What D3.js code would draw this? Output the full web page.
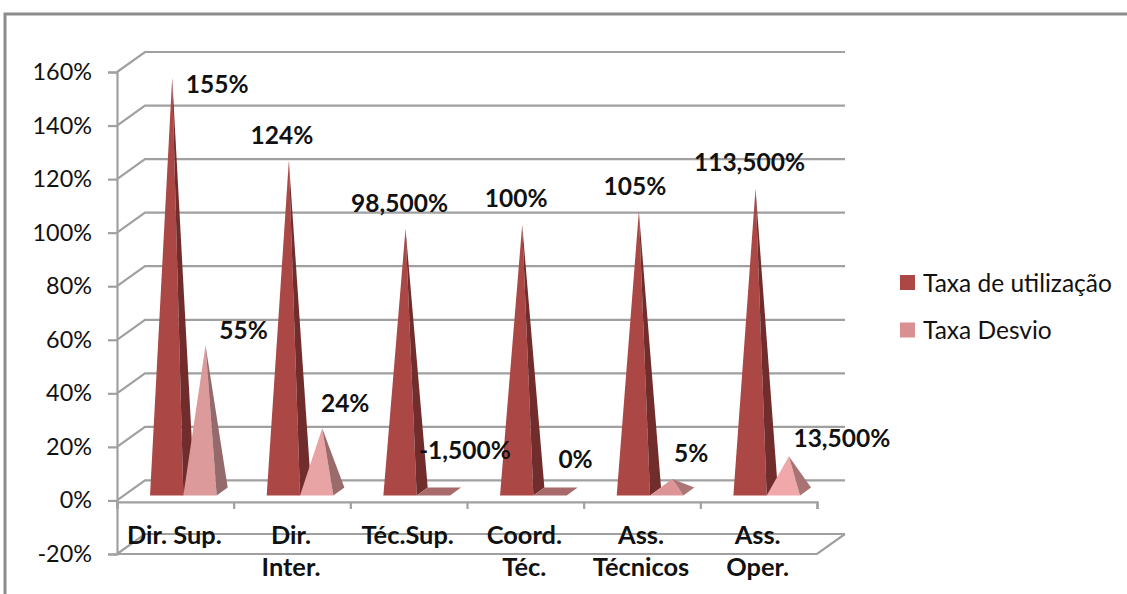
<!DOCTYPE html>
<html>
<head>
<meta charset="utf-8">
<script src="https://cdn.jsdelivr.net/npm/d3@7/dist/d3.min.js"></script>
<style>
html,body{margin:0;padding:0;background:#fff}
svg{display:block}
text{font-family:Lato,"Open Sans",sans-serif;fill:#111}
</style>
</head>
<body>
<div id="chart"></div>
<script>
// Categories, each one or two lines long
const categories = ["Dir. Sup.", "Dir. Inter.", "Téc.Sup.", "Coord. Téc.", "Ass. Técnicos", "Ass. Oper."];
const categoryLines = [["Dir. Sup."], ["Dir.", "Inter."], ["Téc.Sup."], ["Coord.", "Téc."], ["Ass.", "Técnicos"], ["Ass.", "Oper."]];

// Series values in percent
const taxaUtilizacao = [155, 124, 98.5, 100, 105, 113.5];
const taxaDesvio = [55, 24, -1.5, 0, 5, 13.5];

// Value labels as printed on the chart
const utilizacaoLabels = ["155%", "124%", "98,500%", "100%", "105%", "113,500%"];
const desvioLabels = ["55%", "24%", "-1,500%", "0%", "5%", "13,500%"];

const yTicks = [-20, 0, 20, 40, 60, 80, 100, 120, 140, 160];
const seriesNames = ["Taxa de utilização", "Taxa Desvio"];

// Label nudges relative to each pyramid tip
const utilizacaoNudge = [[45, 7], [-7, -25], [-6, -25], [-6, -26], [-4, -25], [-6, -26]];
const desvioNudge = [[38, -15], [23, -25], [26, -46], [20, -33], [19, -26], [53, -18]];

// Face colours: [front, side] per bar
const darkFaces = ["#ab4745", "#712d2c"];
const paleFaces = [["#dc9a9a", "#946a6a"], ["#e8a3a5", "#9b6b6c"], ["#a86a6a", "#a86a6a"],
                   ["#a86a6a", "#a86a6a"], ["#dc9496", "#ad7575"], ["#f0a8aa", "#a87373"]];
const gridColor = "#a0a0a0";

const width = 1127, height = 594;
const svg = d3.select("#chart").append("svg").attr("width", width).attr("height", height);

// Outer frame, cut off by the right and bottom edges
svg.append("path").attr("d", "M5,594V14H1127").attr("fill", "none")
  .attr("stroke", "#8c8c8c").attr("stroke-width", 3);

const left = 117, right = 817;
const depthX = 28, depthY = 20;          // oblique offset of the back wall
const y = d3.scaleLinear().domain([-20, 160]).range([554, 72]);
const x = d3.scaleBand().domain(categories).range([left, right]);
const barWidth = x.bandwidth() * 2 / 7;
const barInset = x.bandwidth() * 2 / 7 - 0.3;
const baseDX = 11, baseDY = 8, baseLift = 5;

const grid = svg.append("g").attr("fill", "none").attr("stroke", gridColor).attr("stroke-width", 2.2);

// Wall lines: each tick runs back along the side wall, then across the back wall
grid.selectAll("path").data(yTicks).join("path")
  .attr("d", d => {
    const p = d3.path();
    p.moveTo(left, y(d));
    p.lineTo(left + depthX, y(d) - depthY);
    p.lineTo(right + depthX, y(d) - depthY);
    return p.toString();
  });

// Floor at the lowest tick
grid.append("path").attr("d", () => {
  const p = d3.path();
  p.moveTo(left, y(-20));
  p.lineTo(right, y(-20));
  p.lineTo(right + depthX, y(-20) - depthY);
  return p.toString();
});

// Value axis
const yAxis = svg.append("g").attr("transform", `translate(${left},0)`)
  .call(d3.axisLeft(y).tickValues(yTicks).tickSize(9).tickPadding(16).tickFormat(d => d + "%"));
yAxis.selectAll("path,line").attr("stroke", gridColor).attr("stroke-width", 2.2);
yAxis.selectAll("text").attr("font-size", 23.4).attr("font-family", "Lato").attr("fill", "#1a1a1a");

// Category axis on the zero plane, ticks on the band boundaries
const zeroY = y(0) + 1.5;
const edges = categories.map(c => x(c)).concat(right);
const boundary = d3.scaleIdentity().domain([left, right]);
const xAxis = svg.append("g").attr("transform", `translate(0,${zeroY})`)
  .call(d3.axisBottom(boundary).tickValues(edges).tickSize(7).tickFormat(""));
xAxis.selectAll("path,line").attr("stroke", gridColor).attr("stroke-width", 2.2);

// Pyramids: a front face and a right side face from the tip to the base
function pyramid(g, value, cat, offset, faces) {
  const x0 = x(cat) + offset, x1 = x0 + barWidth;
  const by = y(0) - baseLift;
  const tipX = (x0 + x1) / 2 + baseDX / 2;
  const tipY = y(value) - baseLift + 1 - baseDY / 2;
  const line = d3.line();
  if (value > 0) {
    g.append("path").attr("fill", faces[0]).attr("d", line([[x0, by], [x1, by], [tipX, tipY]]) + "Z");
    g.append("path").attr("fill", faces[1]).attr("d", line([[x1, by], [x1 + baseDX, by - baseDY], [tipX, tipY]]) + "Z");
  } else {
    // Flat or below-zero marks only show their base
    g.append("path").attr("fill", faces[1])
      .attr("d", line([[x0, by], [x1, by], [x1 + baseDX, by - baseDY], [x0 + baseDX, by - baseDY]]) + "Z");
  }
  return [tipX, tipY];
}

const bars = svg.append("g");
const labels = svg.append("g").attr("font-size", 24.5).attr("font-weight", 700).attr("text-anchor", "middle");
categories.forEach((cat, i) => {
  const g = bars.append("g");
  const tip1 = pyramid(g, taxaUtilizacao[i], cat, barInset, darkFaces);
  const tip2 = pyramid(g, taxaDesvio[i], cat, barInset + barWidth, paleFaces[i]);
  labels.append("text").attr("x", tip1[0] + utilizacaoNudge[i][0]).attr("y", tip1[1] + utilizacaoNudge[i][1])
    .attr("dy", "0.35em").text(utilizacaoLabels[i]);
  labels.append("text").attr("x", tip2[0] + desvioNudge[i][0]).attr("y", tip2[1] + desvioNudge[i][1])
    .attr("dy", "0.35em").text(desvioLabels[i]);
});

// Category names under the zero plane
const catLabels = svg.append("g").attr("font-size", 25.4).attr("font-weight", 700).attr("text-anchor", "middle");
categories.forEach((cat, i) => {
  categoryLines[i].forEach((line, k) => {
    catLabels.append("text").attr("x", x(cat) + x.bandwidth() / 2 - 1).attr("y", 535 + k * 32)
      .attr("dy", "0.35em").text(line);
  });
});

// Legend
const legend = svg.append("g").selectAll("g").data(seriesNames).join("g")
  .attr("transform", (d, i) => `translate(900,${275 + i * 47.5})`);
legend.append("rect").attr("width", 15).attr("height", 15)
  .attr("fill", (d, i) => i === 0 ? darkFaces[0] : "#d89091");
legend.append("text").attr("x", 23).attr("y", 8).attr("dy", "0.35em").attr("font-size", 24.5).attr("fill", "#222").text(d => d);
</script>
</body>
</html>
